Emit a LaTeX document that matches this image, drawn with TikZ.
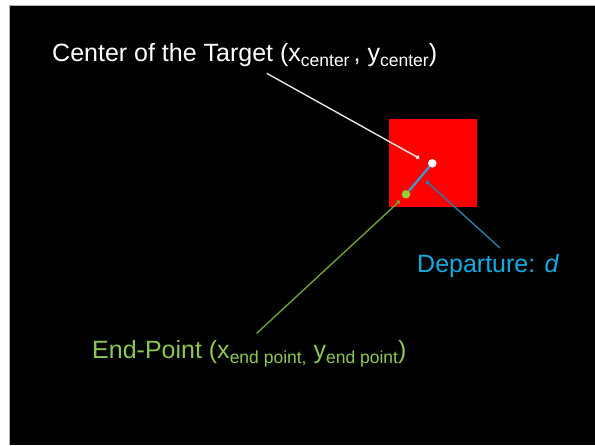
\documentclass[tikz,border=0pt]{standalone}
\usepackage{fontspec}
\usetikzlibrary{arrows.meta}
\newfontfamily\lab{Liberation Sans}
\newcommand{\mysub}[1]{\raisebox{-0.22em}{\fontsize{17.5}{20}\selectfont #1}}
\definecolor{lgreen}{RGB}{140,200,80}
\definecolor{dgreen}{RGB}{110,160,50}
\definecolor{dotgreen}{RGB}{150,205,60}
\definecolor{cyanT}{RGB}{20,170,225}
\definecolor{blueL}{RGB}{40,125,165}
\definecolor{blueS}{RGB}{50,160,210}
\tikzset{
  lbl/.style={anchor=base west, inner sep=0pt, font=\lab\fontsize{25}{28}\selectfont},
  leader/.style={line width=1.4pt, -{Circle[length=4pt]}},
  dot/.style={circle, inner sep=0pt, minimum size=8.5pt}
}
\begin{document}
\begin{tikzpicture}[x=1pt,y=-1pt]
\useasboundingbox (0,0) rectangle (595,445);
\fill[white] (0,0) rectangle (595,445);
\fill[black] (10,6) rectangle (595,445);
\draw[gray!60, line width=0.6pt] (9.7,445) -- (9.7,5.7) -- (595,5.7);
% target
\fill[red] (389,119) rectangle (477,207);
% dots
\node[dot, fill=white] (c) at (432.3,163.3) {};
\node[dot, fill=dotgreen] (e) at (406,194.3) {};
\draw[blueS, line width=2.2pt] (c) -- (e);
% labels
\node[lbl, text=white] (ttl) at (52,61) {Center of the Target (x\mysub{center}\,, y\mysub{center})};
\node[lbl, text=lgreen] (epl) at (92,358) {End-Point (x\mysub{end point,} y\mysub{end point})};
\node[lbl, text=cyanT] (dep) at (417,272) {Departure: \textit{d}};
% leader end points
\coordinate (ct) at (266.7,73.3);
\coordinate (ca) at (419.3,158.3);
\coordinate (et) at (256.7,333.3);
\coordinate (ea) at (400,200.7);
\coordinate (dt) at (500,248);
\coordinate (da) at (426,181);
\draw[leader, white!80!gray] (ct) -- (ca);
\draw[leader, dgreen] (et) -- (ea);
\draw[leader, blueL] (dt) -- (da);
\end{tikzpicture}
\end{document}
